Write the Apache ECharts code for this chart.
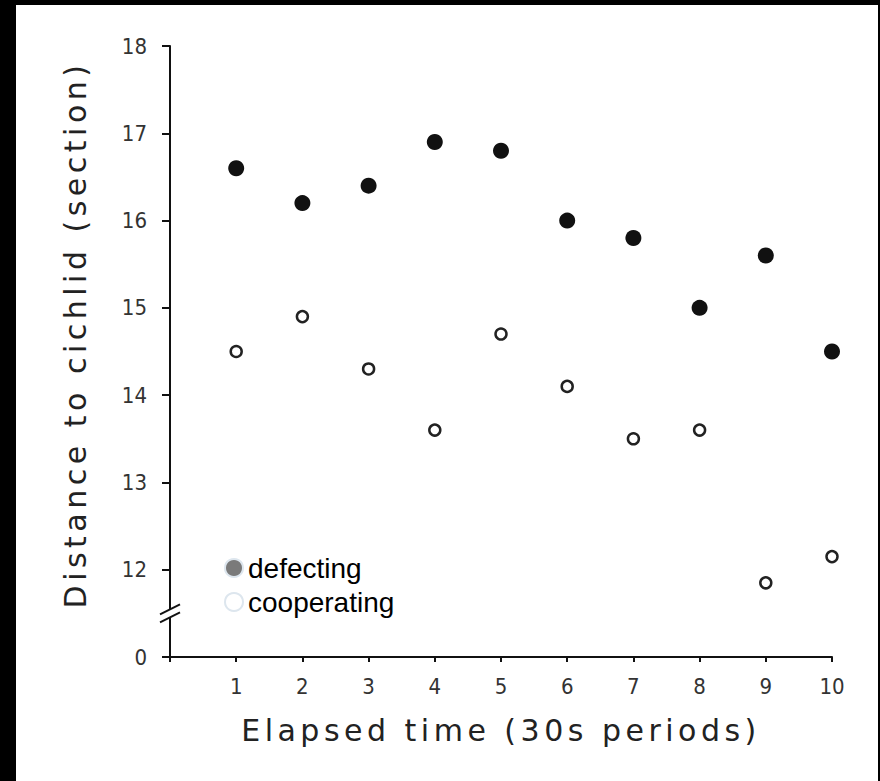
<!DOCTYPE html>
<html><head><meta charset="utf-8">
<script src="https://cdn.jsdelivr.net/npm/echarts@6/dist/echarts.min.js"></script>
<style>
html,body{margin:0;padding:0;background:#000;width:880px;height:781px;overflow:hidden;}
#chart{position:absolute;left:16px;top:5px;width:862px;height:776px;background:#fff;}
#chart text[style*="30px"]{letter-spacing:4.5px;}
</style></head><body><div id="chart"></div>
<script>
const periods = [1, 2, 3, 4, 5, 6, 7, 8, 9, 10];
const defecting = [16.6, 16.2, 16.4, 16.9, 16.8, 16.0, 15.8, 15.0, 15.6, 14.5];
const cooperating = [14.5, 14.9, 14.3, 13.6, 14.7, 14.1, 13.5, 13.6, 11.85, 12.15];
const seriesNames = ['defecting', 'cooperating'];
const xAxisTitle = 'Elapsed time (30s periods)';
const yAxisTitle = 'Distance to cichlid (section)';
const yBreakValue = 11;      // axis position that stands for 0 below the break
const yBreakLabel = '0';

const chart = echarts.init(document.getElementById('chart'), null, {renderer: 'svg'});
const tickFont = "'DejaVu Sans Condensed', 'Liberation Sans Narrow', sans-serif";
const titleFont = "'DejaVu Sans', sans-serif";

chart.setOption({
  animation: false,
  backgroundColor: '#fff',
  grid: {left: 154, right: 46, top: 41, bottom: 124, containLabel: false},
  legend: {
    orient: 'vertical', left: 203, top: 544, itemGap: 6,
    itemWidth: 18, itemHeight: 18,
    textStyle: {fontSize: 28, color: '#000', fontFamily: "'Liberation Sans', Arial, sans-serif"},
    data: [
      {name: seriesNames[0], icon: 'circle', itemStyle: {color: '#7a7a7a', borderColor: '#dde6ee', borderWidth: 2}},
      {name: seriesNames[1], icon: 'circle', itemStyle: {color: '#fff', borderColor: '#dde6ee', borderWidth: 2}}
    ]
  },
  xAxis: {
    type: 'value', min: 0, max: 10, interval: 1,
    name: xAxisTitle, nameLocation: 'middle', nameGap: 58,
    nameTextStyle: {fontSize: 30, color: '#222', fontFamily: titleFont},
    axisLine: {show: true, lineStyle: {color: '#111', width: 2}},
    axisTick: {show: true, length: 5, lineStyle: {color: '#111', width: 2}},
    axisLabel: {margin: 18, fontSize: 22, color: '#333', fontFamily: tickFont,
      formatter: v => (v === 0 ? '' : String(v))},
    splitLine: {show: false}
  },
  yAxis: {
    type: 'value', min: yBreakValue, max: 18, interval: 1,
    name: yAxisTitle, nameLocation: 'middle', nameGap: 80, nameRotate: 90,
    nameTextStyle: {fontSize: 30, color: '#222', fontFamily: titleFont, padding: [0, 0, 0, 34]},
    axisLine: {show: true, lineStyle: {color: '#111', width: 2}},
    axisTick: {show: true, length: 8, lineStyle: {color: '#111', width: 2}},
    axisLabel: {margin: 23, fontSize: 22, color: '#333', fontFamily: tickFont,
      formatter: v => (v === yBreakValue ? yBreakLabel : String(v))},
    splitLine: {show: false}
  },
  series: [
    {
      name: seriesNames[0], type: 'scatter', symbol: 'circle', symbolSize: 16,
      itemStyle: {color: '#111', opacity: 1},
      data: periods.map((p, i) => [p, defecting[i]])
    },
    {
      name: seriesNames[1], type: 'scatter', symbol: 'circle', symbolSize: 11,
      itemStyle: {color: '#fff', borderColor: '#222', borderWidth: 2.5, opacity: 1},
      data: periods.map((p, i) => [p, cooperating[i]])
    }
  ]
});

// break mark ("//") on the y axis between 0 and 12
const bp = chart.convertToPixel({gridIndex: 0}, [0, yBreakValue + 0.5]);
const cx = bp[0], cy = bp[1];
chart.setOption({
  graphic: [
    {type: 'polygon', z: 100, shape: {points: [[cx - 5, cy - 1.5], [cx + 5, cy - 6.5], [cx + 5, cy + 1.5], [cx - 5, cy + 6.5]]},
      style: {fill: '#fff'}},
    {type: 'line', z: 101, shape: {x1: cx - 10, y1: cy + 1, x2: cx + 10, y2: cy - 9}, style: {stroke: '#111', lineWidth: 2}},
    {type: 'line', z: 101, shape: {x1: cx - 10, y1: cy + 9, x2: cx + 10, y2: cy - 1}, style: {stroke: '#111', lineWidth: 2}}
  ]
});
</script></body></html>
